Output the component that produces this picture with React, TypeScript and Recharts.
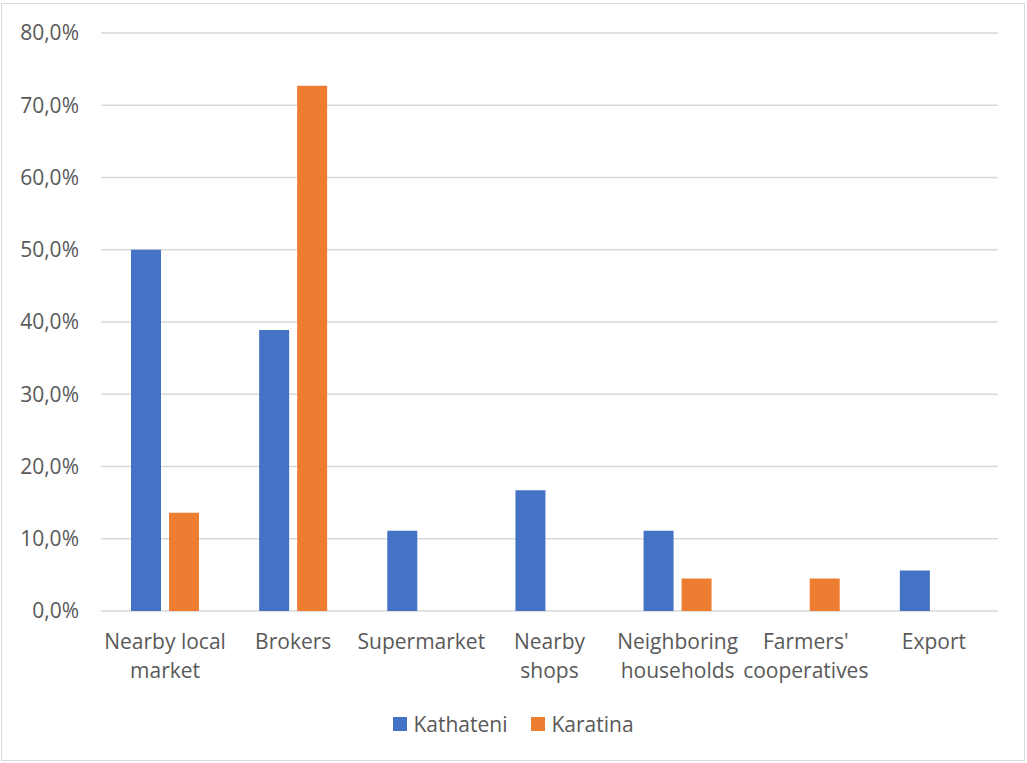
import { BarChart, Bar, XAxis, YAxis, CartesianGrid, Legend } from "recharts";

const categories = [
  "Nearby local\nmarket",
  "Brokers",
  "Supermarket",
  "Nearby\nshops",
  "Neighboring\nhouseholds",
  "Farmers'\ncooperatives",
  "Export",
];
const kathateni = [50.0, 38.9, 11.1, 16.7, 11.1, 0, 5.6];
const karatina = [13.6, 72.7, 0, 0, 4.5, 4.5, 0];
const yTicks = [0, 10, 20, 30, 40, 50, 60, 70, 80];

const BLUE = "#4472C4";
const ORANGE = "#ED7D31";
const TEXT = "#595959";
const FONT = "'Open Sans', sans-serif";
const FS = 21;

const data = categories.map((name, i) => ({
  name,
  Kathateni: kathateni[i],
  Karatina: karatina[i],
}));

const pct = (v: number) => `${v.toFixed(1).replace(".", ",")}%`;

// category names carry "\n" where the label wraps
function CategoryTick({ x, y, payload }: any) {
  const lines = String(payload.value).split("\n");
  return (
    <text x={x} y={y} textAnchor="middle" fill={TEXT} fontSize={FS} fontFamily={FONT}>
      {lines.map((l, i) => (
        <tspan key={i} x={x} y={y + 30 + i * 29}>
          {l}
        </tspan>
      ))}
    </text>
  );
}

function LegendRow() {
  const items = [
    { label: "Kathateni", color: BLUE },
    { label: "Karatina", color: ORANGE },
  ];
  return (
    <div style={{ display: "flex", justifyContent: "center", gap: 24, fontFamily: FONT, fontSize: FS, color: TEXT, height: 28 }}>
      {items.map((it) => (
        <div key={it.label} style={{ display: "flex", alignItems: "center" }}>
          <span style={{ width: 14, height: 14, background: it.color, marginRight: 6, display: "inline-block" }} />
          <span>{it.label}</span>
        </div>
      ))}
    </div>
  );
}

export default function App() {
  return (
    <div style={{ position: "absolute", left: 0, top: 0, width: 1027, height: 763, background: "#fff" }}>
      <div
        style={{
          position: "absolute",
          left: 1,
          top: 3,
          width: 1024,
          height: 758,
          border: "1px solid #d9d9d9",
          boxSizing: "border-box",
        }}
      />
      <BarChart
        width={1027}
        height={763}
        data={data}
        margin={{ top: 33, right: 29, left: 0, bottom: 54 }}
        barCategoryGap={30}
        barGap={8}
        style={{ position: "absolute", left: 0, top: 0 }}
      >
        <CartesianGrid vertical={false} stroke="#d9d9d9" strokeWidth={1.3} />
        <XAxis
          dataKey="name"
          axisLine={false}
          tickLine={false}
          tick={<CategoryTick />}
          interval={0}
          height={70}
        />
        <YAxis
          width={101}
          domain={[0, 80]}
          ticks={yTicks}
          interval={0}
          axisLine={false}
          tickLine={false}
          tickMargin={16}
          tickFormatter={pct}
          tick={{ fill: TEXT, fontSize: FS, fontFamily: FONT }}
        />
        <Legend
          content={<LegendRow />}
          wrapperStyle={{ top: 710, left: 0, width: 1027 }}
        />
        <Bar dataKey="Kathateni" fill={BLUE} barSize={30} isAnimationActive={false} />
        <Bar dataKey="Karatina" fill={ORANGE} barSize={30} isAnimationActive={false} />
      </BarChart>
    </div>
  );
}
